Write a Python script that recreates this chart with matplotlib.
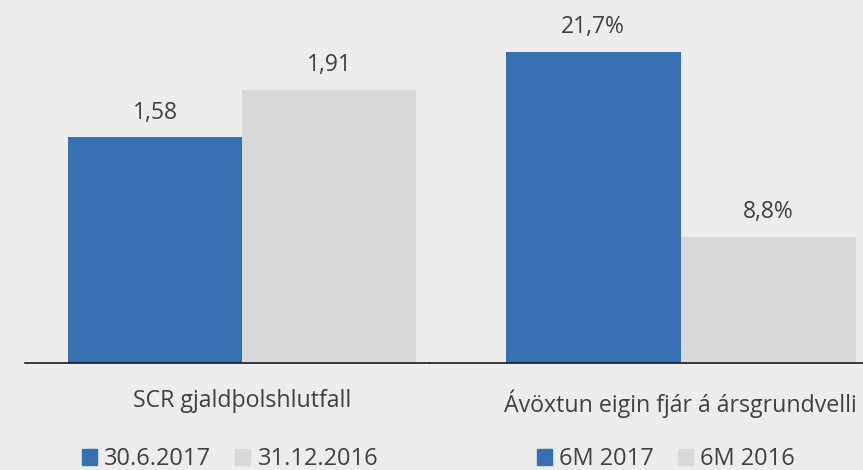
import matplotlib.pyplot as plt
from matplotlib.patches import Patch

# data
scr_labels = ['30.6.2017', '31.12.2016']
scr_values = [1.58, 1.91]
scr_category = 'SCR gjaldþolshlutfall'

roe_labels = ['6M 2017', '6M 2016']
roe_values = [21.7, 8.8]
roe_category = 'Ávöxtun eigin fjár á ársgrundvelli'

blue = '#3670b2'
grey = '#d9d9d9'
bg = '#ededed'
txt = '#404040'

plt.rcParams['font.family'] = ['Open Sans', 'DejaVu Sans']

fig = plt.figure(figsize=(8.63, 4.70), dpi=100, facecolor=bg)
W, H = 863, 470
base = 363


def panel(left, right, xlim, ylim, values, labels, category, fmt, leg_x):
    ax = fig.add_axes([left / W, 1 - base / H, (right - left) / W, base / H])
    ax.set_facecolor(bg)
    w = 0.4
    for i, (v, c) in enumerate(zip(values, [blue, grey])):
        b = ax.bar(-w / 2 + i * w, v, width=w, color=c)
        ax.bar_label(b, labels=[fmt(v)], padding=9, fontsize=16.5, color=txt)
    ax.set_xlim(*xlim)
    ax.set_ylim(*ylim)
    ax.set_xticks([0])
    ax.set_xticklabels([category], fontsize=16.7, color=txt)
    ax.tick_params(axis='x', length=0, pad=19)
    ax.set_yticks([])
    for s in ['top', 'left', 'right']:
        ax.spines[s].set_visible(False)
    ax.spines['bottom'].set_color('#1a1a1a')
    ax.spines['bottom'].set_linewidth(1.2)
    handles = [Patch(color=blue, label=labels[0]), Patch(color=grey, label=labels[1])]
    fig.legend(handles=handles, loc='center', bbox_to_anchor=(leg_x / W, 1 - 459 / H),
               ncol=2, frameon=False, fontsize=17, labelcolor=txt,
               handlelength=0.65, handleheight=0.65, handletextpad=0.3, columnspacing=1.0)
    return ax


panel(25, 430, (-0.499, 0.432), (0, 363 / 143.0), scr_values, scr_labels, scr_category,
      lambda v: f'{v:.2f}'.replace('.', ','), 230)
panel(430, 863, (-0.573, 0.417), (0, 363 / 14.35), roe_values, roe_labels, roe_category,
      lambda v: f'{v:.1f}%'.replace('.', ','), 666)

fig.savefig('out.png', dpi=100, facecolor=bg)
